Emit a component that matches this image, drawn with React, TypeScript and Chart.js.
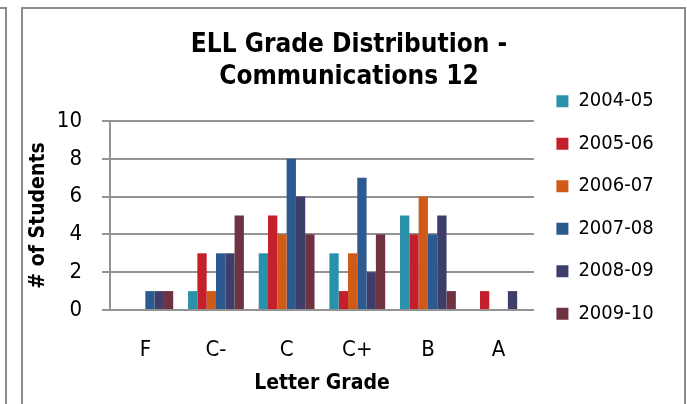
import React, { useEffect, useRef } from 'react';
import { Chart, registerables } from 'chart.js';
Chart.register(...registerables);

const categories = ['F', 'C-', 'C', 'C+', 'B', 'A'];
const seriesLabels = ['2004-05', '2005-06', '2006-07', '2007-08', '2008-09', '2009-10'];
const s0405 = [0, 1, 3, 3, 5, 0];
const s0506 = [0, 3, 5, 1, 4, 1];
const s0607 = [0, 1, 4, 3, 6, 0];
const s0708 = [1, 3, 8, 7, 4, 0];
const s0809 = [1, 3, 6, 2, 5, 1];
const s0910 = [1, 5, 4, 4, 1, 0];
const seriesValues = [s0405, s0506, s0607, s0708, s0809, s0910];
const colors = ['#2A91AB', '#C4202B', '#D05A17', '#2D5A8E', '#3D3F6A', '#6E3241'];
const yMin = 0;
const yMax = 10;
const yStep = 2;

const FF = '"DejaVu Sans Condensed", "DejaVu Sans", sans-serif';
const GRID = '#939393';

export default function App() {
  const ref = useRef<HTMLCanvasElement | null>(null);
  useEffect(() => {
    if (!ref.current) return;
    const chart = new Chart(ref.current, {
      type: 'bar',
      data: {
        labels: categories,
        datasets: seriesLabels.map((l, i) => ({
          label: l,
          data: seriesValues[i],
          backgroundColor: colors[i],
          borderWidth: 0,
          categoryPercentage: 0.79,
          barPercentage: 1,
        })),
      },
      options: {
        animation: false,
        responsive: false,
        devicePixelRatio: 1,
        layout: { padding: { right: 9, left: 0, top: 0, bottom: 0 } },
        plugins: {
          tooltip: { enabled: false },
          title: {
            display: true,
            text: ['ELL Grade Distribution -', 'Communications 12'],
            color: '#000',
            font: { family: FF, size: 26, weight: 'bold', lineHeight: 32 / 26 },
            padding: { top: 20, bottom: 28 },
          },
          legend: {
            display: true,
            position: 'right',
            align: 'center',
            title: { display: true, text: ' ', font: { size: 4, lineHeight: 1.25 }, padding: 0 },
            labels: {
              color: '#000',
              font: { family: FF, size: 20 },
              boxWidth: 12,
              boxHeight: 12,
              padding: 22.5,
              generateLabels: (c: any) =>
                Chart.defaults.plugins.legend.labels.generateLabels(c).map((it: any) => ({
                  ...it,
                  text: it.text + '  ',
                  lineWidth: 0,
                })),
            },
          },
        },
        scales: {
          x: {
            afterFit: (s: any) => {
              s.height = 91;
            },
            grid: { display: false, drawTicks: false },
            border: { display: true, color: GRID, width: 2 },
            ticks: { color: '#000', font: { family: FF, size: 22 }, padding: 27 },
            title: {
              display: true,
              text: 'Letter Grade',
              color: '#000',
              font: { family: FF, size: 21, weight: 'bold' },
              padding: { top: 0, bottom: 5 },
            },
          },
          y: {
            min: yMin,
            max: yMax,
            afterFit: (s: any) => {
              s.width = 87;
            },
            grid: { color: GRID, lineWidth: 2, drawTicks: true, tickLength: 8 },
            border: { display: true, color: GRID, width: 2 },
            ticks: { stepSize: yStep, color: '#000', font: { family: FF, size: 22 }, padding: 20 },
            title: {
              display: true,
              text: '# of Students',
              color: '#000',
              font: { family: FF, size: 21, weight: 'bold' },
              padding: { top: 3, bottom: 0 },
            },
          },
        },
      },
    });
    return () => chart.destroy();
  }, []);

  return (
    <div>
      <div
        style={{
          position: 'absolute',
          left: -12,
          top: 7,
          width: 17,
          height: 420,
          borderTop: '2px solid #8c8c8c',
          borderRight: '2px solid #8c8c8c',
        }}
      />
      <div
        style={{
          position: 'absolute',
          left: 21,
          top: 7,
          width: 661,
          height: 420,
          border: '2px solid #8c8c8c',
          background: '#fff',
        }}
      >
        <canvas ref={ref} width={661} height={392} style={{ display: 'block', width: 661, height: 392 }} />
      </div>
    </div>
  );
}
